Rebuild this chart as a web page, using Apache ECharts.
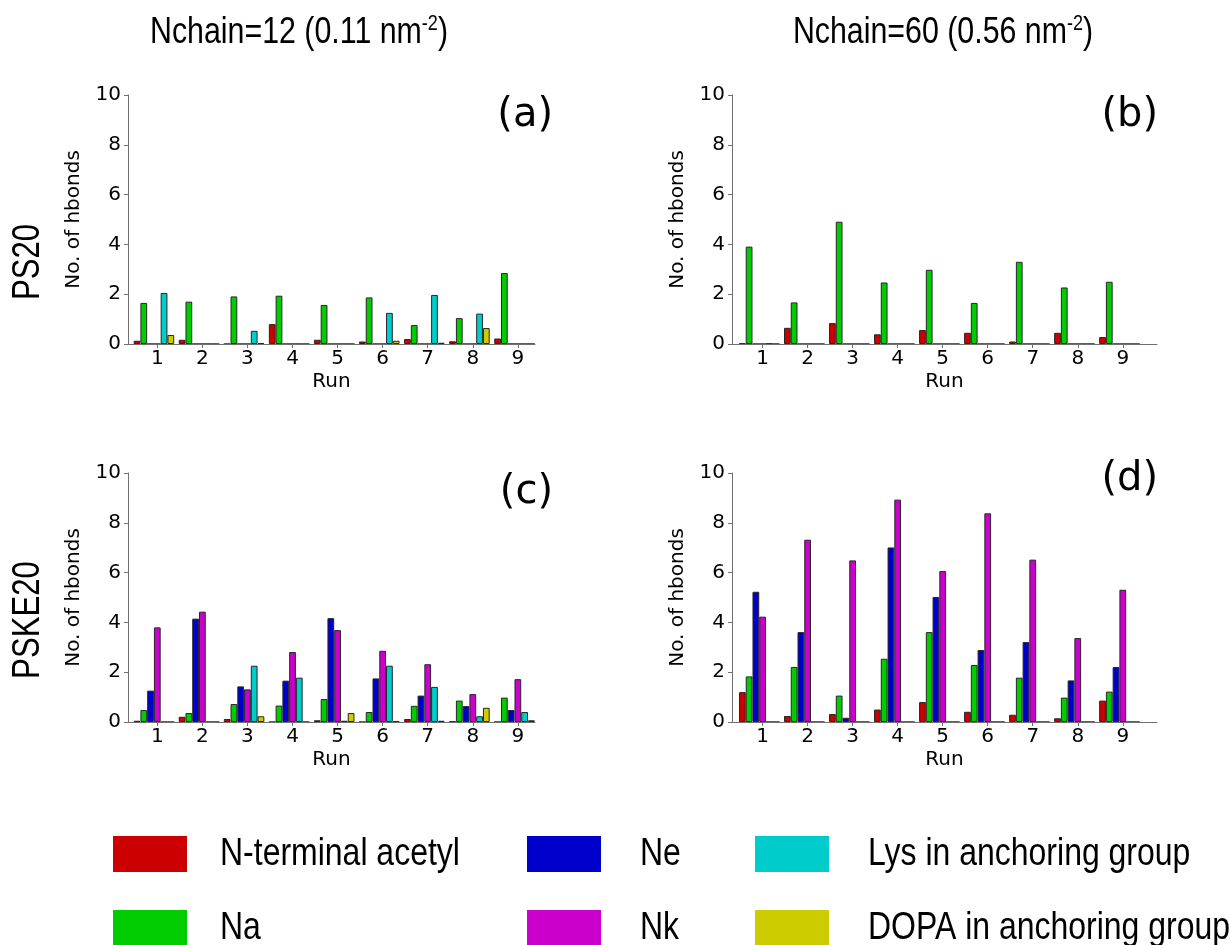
<!DOCTYPE html>
<html>
<head>
<meta charset="utf-8">
<script src="https://cdn.jsdelivr.net/npm/echarts@6/dist/echarts.min.js"></script>
<style>
  html, body { margin: 0; padding: 0; background: #ffffff; }
  #chart { width: 1230px; height: 945px; }
</style>
</head>
<body>
<div id="chart"></div>
<script>
// Runs on the x axis of every panel
const runs = [1, 2, 3, 4, 5, 6, 7, 8, 9];
const yTicks = [0, 2, 4, 6, 8, 10];

// Hydrogen-bond groups (one bar per group and run)
const groupNames = ['N-terminal acetyl', 'Na', 'Ne', 'Nk', 'Lys in anchoring group', 'DOPA in anchoring group'];

// (a) PS20, Nchain=12
const aAcetyl = [0.13, 0.17, 0.00, 0.80, 0.17, 0.10, 0.20, 0.11, 0.22];
const aNa     = [1.65, 1.70, 1.91, 1.94, 1.57, 1.87, 0.76, 1.04, 2.85];
const aNe     = [0, 0, 0, 0, 0, 0, 0, 0, 0];
const aNk     = [0, 0, 0, 0, 0, 0, 0, 0, 0];
const aLys    = [2.05, 0.00, 0.53, 0.00, 0.00, 1.25, 1.97, 1.22, 0.00];
const aDopa   = [0.36, 0.00, 0.03, 0.00, 0.00, 0.13, 0.05, 0.64, 0.00];

// (b) PS20, Nchain=60
const bAcetyl = [0.02, 0.65, 0.84, 0.39, 0.56, 0.45, 0.10, 0.45, 0.28];
const bNa     = [3.91, 1.67, 4.91, 2.47, 2.98, 1.65, 3.30, 2.27, 2.50];
const bNe     = [0, 0, 0, 0, 0, 0, 0, 0, 0];
const bNk     = [0, 0, 0, 0, 0, 0, 0, 0, 0];
const bLys    = [0.02, 0, 0, 0, 0, 0, 0, 0, 0];
const bDopa   = [0, 0, 0, 0, 0, 0, 0, 0, 0];

// (c) PSKE20, Nchain=12
const cAcetyl = [0.05, 0.21, 0.12, 0.00, 0.07, 0.00, 0.12, 0.03, 0.00];
const cNa     = [0.48, 0.36, 0.72, 0.66, 0.92, 0.40, 0.65, 0.86, 0.98];
const cNe     = [1.26, 4.15, 1.43, 1.66, 4.17, 1.75, 1.06, 0.64, 0.48];
const cNk     = [3.80, 4.43, 1.31, 2.81, 3.69, 2.86, 2.32, 1.12, 1.72];
const cLys    = [0.00, 0.00, 2.26, 1.78, 0.05, 2.26, 1.41, 0.23, 0.40];
const cDopa   = [0.00, 0.00, 0.23, 0.00, 0.36, 0.03, 0.05, 0.57, 0.07];

// (d) PSKE20, Nchain=60
const dAcetyl = [1.20, 0.24, 0.32, 0.50, 0.80, 0.41, 0.29, 0.15, 0.86];
const dNa     = [1.83, 2.21, 1.06, 2.54, 3.61, 2.29, 1.78, 0.98, 1.22];
const dNe     = [5.23, 3.61, 0.17, 7.01, 5.02, 2.89, 3.21, 1.67, 2.21];
const dNk     = [4.23, 7.32, 6.49, 8.93, 6.06, 8.38, 6.52, 3.37, 5.31];
const dLys    = [0, 0, 0, 0, 0, 0, 0, 0, 0];
const dDopa   = [0, 0, 0, 0, 0, 0, 0, 0, 0];

// Styling
const groupColors = ['#cc0000', '#00cc00', '#0000cc', '#cc00cc', '#00cccc', '#cccc00'];
const barStep = 0.15;          // width of one bar in run units
const axisGray = '#707070';
const numFont = 'DejaVu Sans';
const textFont = '"Liberation Sans", Arial, sans-serif';
const narrow = 0.82;           // horizontal squeeze of the sans-serif captions

const panels = [
  { values: [aAcetyl, aNa, aNe, aNk, aLys, aDopa], grid: { left: 128, top: 95, width: 407, height: 249 }, xMin: 0.35, xMax: 9.38 },
  { values: [bAcetyl, bNa, bNe, bNk, bLys, bDopa], grid: { left: 732, top: 95, width: 425, height: 249 }, xMin: 0.32, xMax: 9.76 },
  { values: [cAcetyl, cNa, cNe, cNk, cLys, cDopa], grid: { left: 128, top: 473, width: 407, height: 249 }, xMin: 0.35, xMax: 9.38 },
  { values: [dAcetyl, dNa, dNe, dNk, dLys, dDopa], grid: { left: 732, top: 473, width: 425, height: 249 }, xMin: 0.32, xMax: 9.76 }
];

const grids = [], xAxes = [], yAxes = [], series = [];

panels.forEach((p, k) => {
  grids.push(Object.assign({ containLabel: false }, p.grid));
  xAxes.push({
    type: 'value', gridIndex: k, min: p.xMin, max: p.xMax, z: 3,
    splitLine: { show: false },
    axisLine: { show: true, onZero: false, lineStyle: { color: axisGray, width: 1 } },
    axisTick: { show: true, customValues: runs, length: 4, lineStyle: { color: axisGray, width: 1 } },
    axisLabel: { customValues: runs, fontFamily: numFont, fontSize: 20, color: '#000', margin: 5 },
    name: 'Run', nameLocation: 'middle', nameGap: 28,
    nameTextStyle: { fontFamily: numFont, fontSize: 20, color: '#000' }
  });
  yAxes.push({
    type: 'value', gridIndex: k, min: 0, max: 10, interval: 2, z: 3,
    splitLine: { show: false },
    axisLine: { show: true, onZero: false, lineStyle: { color: axisGray, width: 1 } },
    axisTick: { show: true, length: 4, lineStyle: { color: axisGray, width: 1 } },
    axisLabel: { fontFamily: numFont, fontSize: 20, color: '#000', margin: 7 },
    name: 'No. of hbonds', nameLocation: 'middle', nameGap: 44,
    nameTextStyle: { fontFamily: numFont, fontSize: 20, color: '#000' }
  });
  p.values.forEach((vals, i) => {
    series.push({
      type: 'bar', name: groupNames[i], xAxisIndex: k, yAxisIndex: k,
      barWidth: 6.75, barGap: '-100%',
      itemStyle: { color: groupColors[i], borderColor: '#262626', borderWidth: 1 },
      emphasis: { disabled: true },
      data: runs.map((r, j) => [r + (i - 3) * barStep, vals[j]])
    });
  });
});

// Key below the panels: three columns of two entries each
const keyCols = [113, 527, 755];
const keyTextCols = [220, 640, 868];
const keyRows = [854, 928];
const keyGraphics = [];
groupNames.forEach((name, i) => {
  const col = Math.floor(i / 2), row = i % 2;
  const x = keyCols[col], y = keyRows[row];
  keyGraphics.push({
    type: 'rect', shape: { x: x, y: y - 18, width: 74, height: 36 },
    style: { fill: groupColors[i] }
  });
  keyGraphics.push({
    type: 'text', x: keyTextCols[col], y: y, scaleX: narrow,
    style: { text: name, align: 'left', verticalAlign: 'middle', fontFamily: textFont, fontSize: 39, fill: '#000' }
  });
});

function headText(x, y, main, sup) {
  return {
    type: 'text', x: x, y: y, scaleX: narrow,
    style: {
      text: '{m|' + main + '}{s|' + sup + '}{m|)}',
      align: 'center', verticalAlign: 'middle',
      rich: {
        m: { fontFamily: textFont, fontSize: 37, fill: '#000', lineHeight: 40 },
        s: { fontFamily: textFont, fontSize: 22, fill: '#000', verticalAlign: 'top', lineHeight: 40 }
      }
    }
  };
}
function rowText(y, label) {
  return {
    type: 'text', x: 29, y: y, rotation: Math.PI / 2, scaleX: narrow,
    style: { text: label, align: 'center', verticalAlign: 'middle', fontFamily: textFont, fontSize: 38, fill: '#000' }
  };
}
function tagText(x, y, label) {
  return {
    type: 'text', x: x, y: y,
    style: { text: label, align: 'right', verticalAlign: 'middle', fontFamily: numFont, fontSize: 40, fill: '#000' }
  };
}

const chart = echarts.init(document.getElementById('chart'), null, { renderer: 'canvas' });
chart.setOption({
  animation: false,
  backgroundColor: '#ffffff',
  grid: grids,
  xAxis: xAxes,
  yAxis: yAxes,
  series: series,
  graphic: [
    headText(299, 33, 'Nchain=12 (0.11 nm', '-2'),
    headText(943, 33, 'Nchain=60 (0.56 nm', '-2'),
    rowText(262, 'PS20'),
    rowText(620, 'PSKE20'),
    tagText(553, 116, '(a)'),
    tagText(1158, 116, '(b)'),
    tagText(553, 493, '(c)'),
    tagText(1158, 480, '(d)')
  ].concat(keyGraphics)
});
</script>
</body>
</html>
